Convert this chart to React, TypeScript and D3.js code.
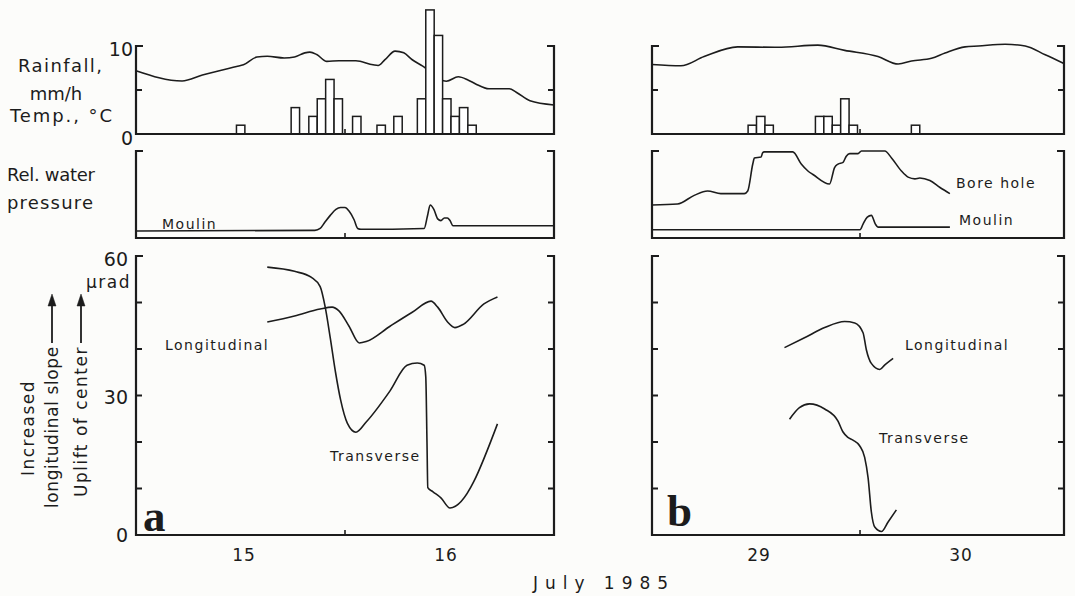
import React from 'react';
import * as d3 from 'd3';

// times are days of July 1985 (fractional)

// rainfall, hourly bars: start hour after midnight of first day, mm/h
const rainAHour = [11.1, 17.6, 19.7, 20.7, 21.7, 22.7, 24.9, 27.8, 29.8, 32.6, 33.6, 34.6, 35.6, 36.6, 37.6, 38.6];
const rainA = [1, 3, 2, 4, 6.2, 4, 2, 1, 2, 4, 14.1, 11.2, 4, 2, 3, 1];
const rainBHour = [10.7, 11.7, 12.7, 18.7, 19.7, 20.7, 21.7, 22.7, 30.1];
const rainB = [1, 2, 1, 2, 2, 1, 4, 1, 1];

// air temperature, deg C
const tempATime = [14.965, 15.193, 15.294, 15.463, 15.497, 15.564, 15.615, 15.699, 15.75, 15.801, 15.826, 15.86, 15.91, 15.97, 16.054, 16.139, 16.164, 16.198, 16.248, 16.291, 16.333, 16.383, 16.502, 16.561, 16.611, 16.645, 16.713, 16.814, 16.848, 16.916, 17.035];
const tempA = [7.2, 6.03, 6.7, 7.67, 7.86, 8.75, 8.83, 8.64, 8.75, 9.22, 9.3, 9.03, 8.25, 8.33, 8.33, 7.86, 7.78, 8.44, 9.42, 9.22, 8.44, 7.74, 5.99, 6.5, 6.11, 5.72, 5.14, 5.14, 4.75, 3.77, 3.3];
const tempBTime = [28.97, 29.113, 29.228, 29.394, 29.593, 29.791, 29.924, 30.089, 30.189, 30.255, 30.354, 30.421, 30.52, 30.586, 30.719, 30.818, 30.917, 31.01];
const tempB = [7.9, 7.75, 8.8, 9.9, 9.85, 10.1, 9.5, 8.8, 7.95, 8.3, 8.6, 9.2, 9.9, 10.0, 10.2, 10.0, 9.0, 8.0];

// relative water pressure (arbitrary 0-10)
const moulinATime = [14.965, 15.851, 15.877, 15.9, 15.927, 15.955, 15.978, 16.0, 16.02, 16.045, 16.063, 16.079, 16.392, 16.408, 16.422, 16.44, 16.459, 16.475, 16.492, 16.507, 16.52, 16.535, 17.035];
const moulinA = [0.8, 0.88, 1.1, 1.8, 2.6, 3.3, 3.5, 3.5, 3.1, 2.1, 1.1, 1.0, 1.1, 2.5, 3.8, 3.3, 2.2, 2.0, 2.3, 2.3, 2.0, 1.4, 1.4];
const boreTime = [28.97, 29.096, 29.179, 29.245, 29.311, 29.427, 29.444, 29.469, 29.477, 29.51, 29.518, 29.526, 29.667, 29.709, 29.742, 29.767, 29.849, 29.874, 29.891, 29.916, 29.932, 29.949, 29.99, 30.007, 30.123, 30.156, 30.205, 30.238, 30.272, 30.296, 30.346, 30.396, 30.445];
const bore = [3.8, 3.9, 4.9, 5.4, 5.1, 5.1, 5.4, 8.5, 9.2, 9.3, 9.8, 9.9, 9.9, 8.5, 7.7, 7.3, 6.2, 8.1, 8.5, 8.7, 9.4, 9.7, 9.7, 10, 10, 9.2, 7.7, 7.0, 6.8, 6.9, 6.6, 5.8, 5.1];
const moulinBTime = [28.97, 30.0, 30.015, 30.036, 30.056, 30.076, 30.089, 30.445];
const moulinB = [0.95, 0.95, 1.6, 2.4, 2.6, 1.6, 1.25, 1.25];

// tilt, microradians
const longATime = [15.615, 15.75, 15.877, 15.936, 15.97, 16.02, 16.071, 16.105, 16.223, 16.333, 16.426, 16.459, 16.51, 16.544, 16.586, 16.688, 16.755];
const longA = [45.8, 47.1, 48.6, 49.0, 48.2, 44.9, 41.3, 41.6, 44.9, 47.9, 50.3, 49.0, 45.7, 44.6, 45.3, 49.7, 51.2];
const transATime = [15.615, 15.75, 15.834, 15.877, 15.902, 15.927, 15.953, 15.978, 16.012, 16.054, 16.105, 16.223, 16.307, 16.358, 16.392, 16.4, 16.406, 16.41, 16.436, 16.475, 16.52, 16.755];
const transA = [57.6, 56.7, 55.4, 53.4, 49.0, 42.4, 35.0, 29.1, 24.0, 22.1, 24.3, 31.0, 36.5, 37.0, 36.5, 34, 20, 10.2, 9.3, 8.0, 5.8, 23.9];
const longBTime = [29.626, 29.725, 29.825, 29.924, 29.974, 30.015, 30.031, 30.056, 30.098, 30.123, 30.164];
const longB = [40.3, 42.4, 44.6, 45.9, 45.6, 43.5, 39.9, 36.9, 35.6, 36.6, 38.0];
const transBTime = [29.651, 29.7, 29.75, 29.825, 29.891, 29.915, 29.94, 29.965, 29.998, 30.023, 30.04, 30.056, 30.073, 30.106, 30.139, 30.18];
const transB = [24.9, 27.4, 28.2, 27.1, 24.5, 22.2, 21.0, 20.4, 19.2, 16.7, 12.3, 5.0, 1.7, 0.75, 2.8, 5.4];

const dayLabelsA = [15, 16];
const dayLabelsB = [29, 30];

const FONT = 'DejaVu Sans, sans-serif';
const INK = '#1c1c1c';

export default function App() {
  const xa = d3.scaleLinear().domain([14.965, 17.035]).range([136, 554]);
  const xb = d3.scaleLinear().domain([28.97, 31.01]).range([652, 1064]);
  const yTop = d3.scaleLinear().domain([0, 10]).range([134, 46]);
  const yMid = d3.scaleLinear().domain([0, 10]).range([238, 151]);
  const yBot = d3.scaleLinear().domain([0, 60]).range([535, 256]);

  const path = (x: any, y: any, t: number[], v: number[]) =>
    d3.line<[number, number]>()
      .x((d) => x(d[0]))
      .y((d) => y(d[1]))
      .curve(d3.curveMonotoneX)(d3.zip(t, v) as [number, number][]) || '';

  // open frame: bracket ticks at top, inward ticks, small midnight tick
  const frame = (x: any, y: any, ticks: number[], mid: number, key: string) => {
    const [xl, xr] = x.range();
    const [yb, yt] = y.range();
    return (
      <g key={key} stroke={INK} fill="none">
        <path d={`M${xl + 7},${yt}H${xl}V${yb}H${xr}V${yt}H${xr - 7}`} strokeWidth={2.2} />
        {ticks.map((t) => (
          <g key={t} strokeWidth={2}>
            <line x1={xl} x2={xl + 6} y1={y(t)} y2={y(t)} />
            <line x1={xr} x2={xr - 6} y1={y(t)} y2={y(t)} />
          </g>
        ))}
        <line x1={x(mid)} x2={x(mid)} y1={yb} y2={yb - 5} strokeWidth={1.6} />
      </g>
    );
  };

  const bars = (x: any, day0: number, hours: number[], vals: number[], key: string) => (
    <g key={key} fill="#fff" stroke={INK} strokeWidth={1.5}>
      {hours.map((h, i) => {
        const x0 = x(day0 + h / 24);
        const x1 = x(day0 + (h + 1) / 24);
        return <rect key={i} x={x0} y={yTop(vals[i])} width={x1 - x0} height={yTop(0) - yTop(vals[i])} />;
      })}
    </g>
  );

  const curve = { fill: 'none', stroke: INK, strokeWidth: 1.6, strokeLinejoin: 'round' as const };
  const lbl = { fontFamily: FONT, fontSize: 14, letterSpacing: 1.5, fill: INK };
  const big = { fontFamily: FONT, fontSize: 18, fill: INK };
  const num = { fontFamily: FONT, fontSize: 19, fill: INK };

  return (
    <svg width={1075} height={596} style={{ position: 'absolute', left: 0, top: 0, background: '#fcfcfa' }}>
      {/* top row: temperature & rainfall */}
      <path d={path(xa, yTop, tempATime, tempA)} {...curve} />
      <path d={path(xb, yTop, tempBTime, tempB)} {...curve} />
      {bars(xa, 15, rainAHour, rainA, 'ra')}
      {bars(xb, 29, rainBHour, rainB, 'rb')}
      {frame(xa, yTop, [5], 16, 'fa1')}
      {frame(xb, yTop, [5], 30, 'fb1')}

      {/* middle row: water pressure */}
      <path d={path(xa, yMid, moulinATime, moulinA)} {...curve} />
      <path d={path(xb, yMid, boreTime, bore)} {...curve} />
      <path d={path(xb, yMid, moulinBTime, moulinB)} {...curve} />
      {frame(xa, yMid, [], 16, 'fa2')}
      {frame(xb, yMid, [], 30, 'fb2')}

      {/* bottom row: tilt */}
      <path d={path(xa, yBot, longATime, longA)} {...curve} />
      <path d={path(xa, yBot, transATime, transA)} {...curve} />
      <path d={path(xb, yBot, longBTime, longB)} {...curve} />
      <path d={path(xb, yBot, transBTime, transB)} {...curve} />
      {frame(xa, yBot, [10, 20, 30, 40, 50], 16, 'fa3')}
      {frame(xb, yBot, [10, 20, 30, 40, 50], 30, 'fb3')}

      {/* left titles */}
      <g {...big} textAnchor="middle" lengthAdjust="spacing">
        <text x={60} y={72} textLength={84}>Rainfall,</text>
        <text x={56} y={100}>mm/h</text>
        <text x={61} y={122} textLength={102}>Temp., °C</text>
        <text x={51} y={181} textLength={88}>Rel. water</text>
        <text x={50} y={209} textLength={86}>pressure</text>
      </g>
      <g {...num} textAnchor="end">
        <text x={133} y={56}>10</text>
        <text x={133} y={145}>0</text>
        <text x={128} y={266}>60</text>
        <text x={128} y={404}>30</text>
        <text x={128} y={542}>0</text>
      </g>
      <text x={131} y={288} textAnchor="end" fontFamily={FONT} fontSize={17} letterSpacing={1.5} fill={INK}>µrad</text>

      {/* rotated y title */}
      <g fontFamily={FONT} fontSize={17} fill={INK}>
        <text transform="translate(34,428) rotate(-90)" textAnchor="middle" letterSpacing={1.5}>Increased</text>
        <text transform="translate(58,508) rotate(-90)" letterSpacing={0.6}>longitudinal slope</text>
        <text transform="translate(87,497) rotate(-90)" letterSpacing={1.5}>Uplift of center</text>
      </g>
      <g stroke={INK} strokeWidth={1.8} fill={INK}>
        <line x1={52} x2={52} y1={343} y2={304} />
        <path d="M48,306 L52,294 L56,306 Z" strokeWidth={0.5} />
        <line x1={81} x2={81} y1={343} y2={304} />
        <path d="M77,306 L81,294 L85,306 Z" strokeWidth={0.5} />
      </g>

      {/* series labels */}
      <g {...lbl}>
        <text x={162} y={229}>Moulin</text>
        <text x={956} y={188}>Bore hole</text>
        <text x={959} y={225}>Moulin</text>
        <text x={165} y={350}>Longitudinal</text>
        <text x={330} y={461}>Transverse</text>
        <text x={905} y={350}>Longitudinal</text>
        <text x={879} y={443}>Transverse</text>
      </g>

      {/* panel letters */}
      <g fontFamily="Liberation Serif, serif" fontWeight="bold" fontSize={45} fill={INK}>
        <text x={143} y={531}>a</text>
        <text x={667} y={526}>b</text>
      </g>

      {/* x labels */}
      <g fontFamily={FONT} fontSize={17} letterSpacing={1} fill={INK} textAnchor="middle">
        {dayLabelsA.map((d) => <text key={d} x={xa(d + 0.5)} y={561}>{d}</text>)}
        {dayLabelsB.map((d) => <text key={d} x={xb(d + 0.5)} y={561}>{d}</text>)}
      </g>
      <text x={604} y={589} textAnchor="middle" fontFamily={FONT} fontSize={17} letterSpacing={7} fill={INK}>July 1985</text>
    </svg>
  );
}
